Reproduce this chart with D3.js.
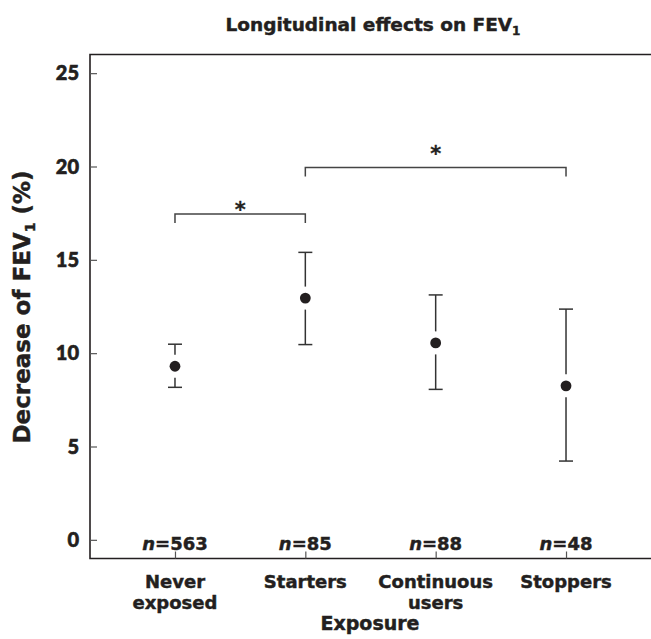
<!DOCTYPE html>
<html>
<head>
<meta charset="utf-8">
<script src="https://cdn.jsdelivr.net/npm/d3@7"></script>
<style>
  html, body { margin: 0; padding: 0; background: #fff; }
  svg { display: block; }
  text { font-family: "DejaVu Sans", sans-serif; font-weight: bold; fill: #231f20; stroke: #231f20; stroke-width: 0.45px; }
  .tick-label { font-family: Lato, "DejaVu Sans", sans-serif; font-weight: 900; stroke-width: 0.6px; }
</style>
</head>
<body>
<svg id="chart" width="651" height="639"></svg>
<script>
// ---- data ----
const categories = ["Never exposed", "Starters", "Continuous users", "Stoppers"];
const categoryLines = [["Never", "exposed"], ["Starters"], ["Continuous", "users"], ["Stoppers"]];
const means = [9.3, 12.95, 10.55, 8.25];
const upper = [10.48, 15.4, 13.12, 12.36];
const lower = [8.17, 10.46, 8.06, 4.22];
const nValues = [563, 85, 88, 48];
const yTicks = [0, 5, 10, 15, 20, 25];
// significance brackets: from index, to index, bracket level, asterisk level
const bracketFrom = [0, 1];
const bracketTo = [1, 3];
const bracketLevel = [17.45, 19.95];
const starLevel = [17.84, 20.88];

// ---- layout ----
const svg = d3.select("#chart");
const ink = "#231f20";
const mLeft = 90, mRight = 651, mTop = 54.5, mBottom = 558.5;

const x = d3.scalePoint().domain(categories).range([mLeft, mRight]).padding(0.652);
const y = d3.scaleLinear().domain([-1, 26]).range([mBottom, mTop]);

// frame (left, top, bottom)
svg.append("path")
  .attr("d", `M${mRight},${mTop}H${mLeft}V${mBottom}H${mRight}`)
  .attr("fill", "none").attr("stroke", ink).attr("stroke-width", 1.6);

// y axis ticks (inward) + labels
const yAxis = d3.axisRight(y).tickValues(yTicks).tickSize(7).tickFormat("");
const yg = svg.append("g").attr("transform", `translate(${mLeft},0)`).call(yAxis);
yg.select(".domain").remove();
yg.selectAll(".tick line").attr("stroke", "#555").attr("stroke-width", 1.2);
svg.append("g").selectAll("text").data(yTicks).join("text")
  .attr("class", "tick-label")
  .attr("x", mLeft - 11).attr("y", d => y(d)).attr("dy", "0.36em")
  .attr("text-anchor", "end").attr("font-size", 20).text(d => d);

// x axis ticks (inward)
const xAxis = d3.axisTop(x).tickSize(7).tickFormat("");
const xg = svg.append("g").attr("transform", `translate(0,${mBottom})`).call(xAxis);
xg.select(".domain").remove();
xg.selectAll(".tick line").attr("stroke", "#555").attr("stroke-width", 1.2);

// category labels
categories.forEach((c, i) => {
  const t = svg.append("text").attr("x", x(c)).attr("y", 588)
    .attr("text-anchor", "middle").attr("font-size", 18);
  categoryLines[i].forEach((line, j) => {
    t.append("tspan").attr("x", x(c)).attr("dy", j === 0 ? 0 : 21).text(line);
  });
});

// n labels
categories.forEach((c, i) => {
  const t = svg.append("text").attr("x", x(c)).attr("y", 550)
    .attr("text-anchor", "middle").attr("font-size", 18);
  t.append("tspan").attr("font-style", "italic").text("n");
  t.append("tspan").text("=" + nValues[i]);
});

// axis titles
svg.append("text").attr("x", 370).attr("y", 630).attr("text-anchor", "middle")
  .attr("font-size", 19).text("Exposure");

const yt = svg.append("text").attr("transform", `translate(30,307) rotate(-90)`)
  .attr("text-anchor", "middle").attr("font-size", 23);
yt.append("tspan").text("Decrease of FEV");
yt.append("tspan").attr("font-size", 14).attr("dy", 5).text("1");
yt.append("tspan").attr("dy", -5).text(" (%)");

// title
const tt = svg.append("text").attr("x", 373).attr("y", 31).attr("text-anchor", "middle")
  .attr("font-size", 18.5);
tt.append("tspan").text("Longitudinal effects on FEV");
tt.append("tspan").attr("font-size", 12).attr("dy", 4).text("1");

// error bars
const gap = 11.5, cap = 7;
const eb = svg.append("g").attr("stroke", "#333").attr("stroke-width", 1.5).attr("fill", "none");
categories.forEach((c, i) => {
  const cx = x(c), cy = y(means[i]);
  eb.append("line").attr("x1", cx).attr("x2", cx).attr("y1", y(upper[i])).attr("y2", cy - gap);
  eb.append("line").attr("x1", cx).attr("x2", cx).attr("y1", cy + gap).attr("y2", y(lower[i]));
  eb.append("line").attr("x1", cx - cap).attr("x2", cx + cap).attr("y1", y(upper[i])).attr("y2", y(upper[i]));
  eb.append("line").attr("x1", cx - cap).attr("x2", cx + cap).attr("y1", y(lower[i])).attr("y2", y(lower[i]));
});
svg.append("g").selectAll("circle").data(categories).join("circle")
  .attr("cx", d => x(d)).attr("cy", (d, i) => y(means[i])).attr("r", 5.4).attr("fill", ink);

// significance brackets
const bg = svg.append("g");
bracketFrom.forEach((a, k) => {
  const x1 = x(categories[a]), x2 = x(categories[bracketTo[k]]), yy = y(bracketLevel[k]);
  bg.append("path").attr("d", `M${x1},${yy + 9}V${yy}H${x2}V${yy + 9}`)
    .attr("fill", "none").attr("stroke", "#444").attr("stroke-width", 1.5);
  bg.append("text").attr("x", (x1 + x2) / 2).attr("y", y(starLevel[k])).attr("dy", "0.5em")
    .attr("text-anchor", "middle").attr("font-size", 21).style("stroke-width", "0.3px").text("*");
});
</script>
</body>
</html>
